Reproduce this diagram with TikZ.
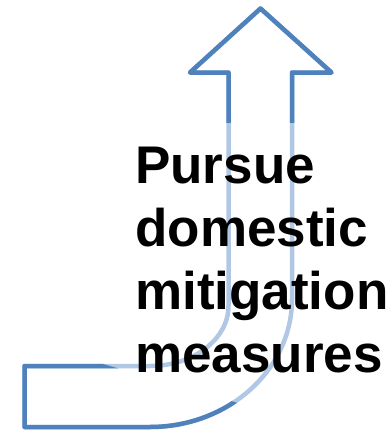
\documentclass[tikz,border=0pt]{standalone}
\usepackage{fontspec}
\setmainfont{Liberation Sans}
\usepackage{tikz}
\usetikzlibrary{positioning}

\definecolor{arrowdark}{HTML}{4F81BD}
\definecolor{arrowlight}{HTML}{B0C8E4}

% outline of the bent arrow, in pixel units
\newcommand{\bentarrow}{(260.5,8.5) -- (331.5,72.5) -- (292,72.5) -- (292,299)
  .. controls (292,369.7) and (228.4,427) .. (150,427)
  -- (24.5,427) -- (24.5,366) -- (150,366)
  .. controls (193.4,366) and (228.5,339.1) .. (228.5,306)
  -- (228.5,72.5) -- (190,72.5) -- cycle}

\begin{document}
\begin{tikzpicture}[x=1pt, y=-1pt, line width=4.5pt, line join=round,
      outline/.style={draw=arrowlight},
      words/.style={font=\fontsize{53}{63.3}\selectfont\bfseries, align=left,
        text width=300pt, inner sep=0pt, anchor=base west}]
    \useasboundingbox (0,0) rectangle (386,432);
    \draw[outline] \bentarrow;
    % darker parts of the gradient
    \begin{scope}
      \clip (0,0) rectangle (386,122);
      \draw[draw=arrowdark] \bentarrow;
    \end{scope}
    \begin{scope}
      \clip (0,334.2) -- (386,445.8) -- (0,445.8) -- cycle;
      \draw[draw=arrowdark] \bentarrow;
    \end{scope}
    \node (pursue) [words] at (133,183) {Pursue\\domestic\\mitigation\\measures};
  \end{tikzpicture}
\end{document}
